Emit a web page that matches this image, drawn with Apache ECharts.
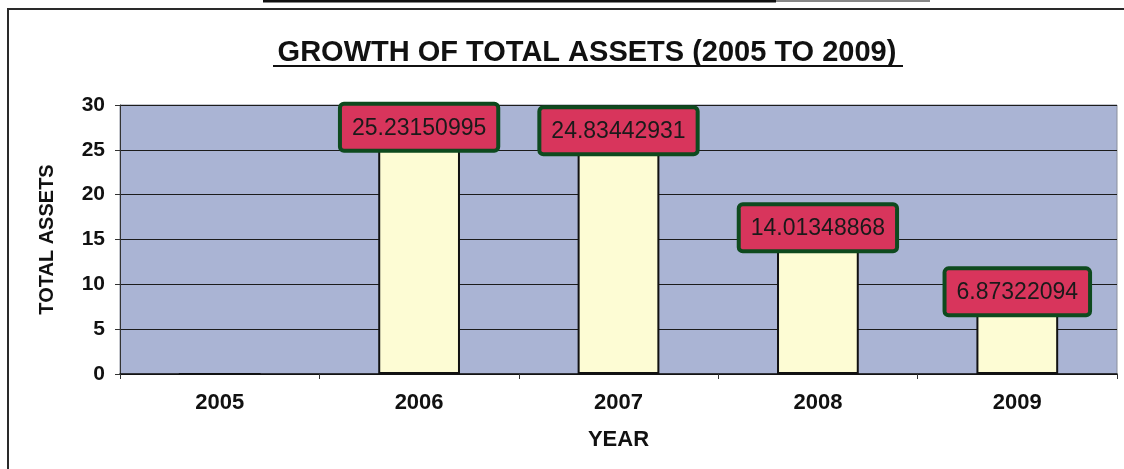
<!DOCTYPE html>
<html>
<head>
<meta charset="utf-8">
<script src="https://cdn.jsdelivr.net/npm/echarts@6/dist/echarts.min.js"></script>
<style>
  html, body { margin: 0; padding: 0; background: #ffffff; }
  #chart { width: 1124px; height: 469px; }
</style>
</head>
<body>
<div id="chart"></div>
<script>
// Total assets by year
const years = ['2005', '2006', '2007', '2008', '2009'];
const totalAssets = [0, 25.23150995, 24.83442931, 14.01348868, 6.87322094];
const yTicks = { min: 0, max: 30, interval: 5 };

const FONT = '"Liberation Sans", Arial, sans-serif';

const chart = echarts.init(document.getElementById('chart'));

// a year with no assets gets no value box
const barData = totalAssets.map(v => ({
  value: v,
  label: { show: v > 0 }
}));

chart.setOption({
  backgroundColor: '#ffffff',
  animation: false,
  grid: {
    left: 120, right: 7, top: 105, bottom: 95,
    show: true,
    backgroundColor: '#aab4d4',
    borderColor: '#8a8f9c',
    borderWidth: 1
  },
  xAxis: {
    type: 'category',
    data: years,
    name: 'YEAR',
    nameLocation: 'middle',
    nameGap: 55,
    nameTextStyle: { fontFamily: FONT, fontWeight: 'bold', fontSize: 22, color: '#111' },
    axisLine: { show: true, lineStyle: { color: '#111', width: 1.5 } },
    axisTick: { show: true, length: 5, lineStyle: { color: '#333' } },
    axisLabel: { fontFamily: FONT, fontWeight: 'bold', fontSize: 22, color: '#111', margin: 18 }
  },
  yAxis: {
    type: 'value',
    min: yTicks.min, max: yTicks.max, interval: yTicks.interval,
    name: 'TOTAL ASSETS',
    nameLocation: 'middle',
    nameRotate: 90,
    nameGap: 63,
    nameTextStyle: { fontFamily: FONT, fontWeight: 'bold', fontSize: 20, color: '#111' },
    axisLine: { show: true, lineStyle: { color: '#333', width: 1 } },
    axisTick: { show: true, length: 5, lineStyle: { color: '#333' } },
    axisLabel: { fontFamily: FONT, fontWeight: 'bold', fontSize: 21, color: '#111', margin: 15 },
    splitLine: { show: true, lineStyle: { color: '#1c1c1c', width: 1.2 } }
  },
  series: [{
    type: 'bar',
    data: barData,
    barWidth: '41%',
    itemStyle: { color: '#fdfcd4', borderColor: '#111', borderWidth: 2 },
    label: {
      position: 'top',
      distance: -1,
      formatter: p => String(p.value),
      fontFamily: FONT,
      fontSize: 23,
      color: '#1a1a1a',
      backgroundColor: '#d8355c',
      borderColor: '#0e4a1e',
      borderWidth: 4,
      borderRadius: 2,
      padding: [11, 10, 9, 10]
    }
  }],
  graphic: [
    // page frame
    { type: 'line', shape: { x1: 7, y1: 9, x2: 1124, y2: 9 }, style: { stroke: '#2a2a2a', lineWidth: 2 } },
    { type: 'line', shape: { x1: 8, y1: 9, x2: 8, y2: 469 }, style: { stroke: '#2a2a2a', lineWidth: 2 } },
    { type: 'line', shape: { x1: 263, y1: 1, x2: 776, y2: 1 }, style: { stroke: '#111', lineWidth: 3 } },
    { type: 'line', shape: { x1: 776, y1: 1, x2: 930, y2: 1 }, style: { stroke: '#888', lineWidth: 2 } },
    // title and its underline
    {
      type: 'text', x: 587, y: 53,
      style: {
        text: 'GROWTH OF TOTAL ASSETS (2005 TO 2009)',
        font: 'bold 29px ' + FONT,
        fill: '#111',
        textAlign: 'center',
        textVerticalAlign: 'middle'
      }
    },
    { type: 'line', shape: { x1: 273, y1: 66, x2: 903, y2: 66 }, style: { stroke: '#111', lineWidth: 2 } }
  ]
});
</script>
</body>
</html>
